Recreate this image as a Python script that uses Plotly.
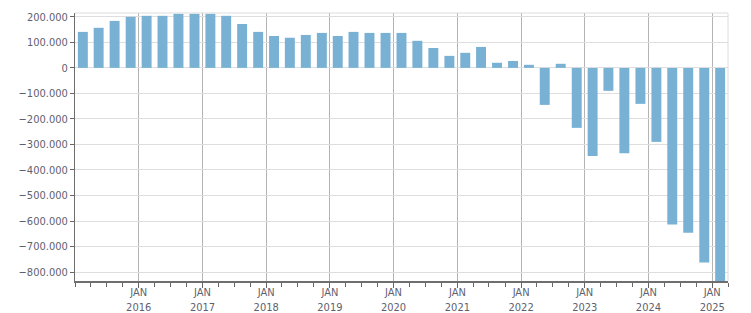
import plotly.graph_objects as go

# Quarter start dates (bars drawn at mid-quarter)
quarters = [f"{y}-{m:02d}-01" for y in range(2015, 2026) for m in (1, 4, 7, 10)][:41]

values = [
    141000, 157000, 184000, 200000,
    204000, 204000, 212000, 212000,
    212000, 204000, 172000, 141000,
    125000, 118000, 129000, 137000,
    125000, 141000, 137000, 137000,
    137000, 106000, 78000, 47000,
    59000, 82000, 20000, 27000,
    12000, -145000, 16000, -235000,
    -345000, -90000, -334000, -141000,
    -290000, -614000, -646000, -763000,
    -850000,
]

tick_vals = [f"{y}-01-01" for y in range(2016, 2026)]
tick_text = [f"JAN<br>{y}" for y in range(2016, 2026)]

y_ticks = list(range(-800000, 200001, 100000))

font_family = "Tahoma, 'DejaVu Sans Condensed', 'Liberation Sans', sans-serif"
text_color = "#5f5f70"

fig = go.Figure()
fig.add_trace(go.Bar(
    x=quarters,
    y=values,
    xperiod="M3",
    xperiod0="2015-01-01",
    xperiodalignment="middle",
    width=57 * 86400000,
    marker=dict(color="#79b1d4", line=dict(width=0)),
    hoverinfo="skip",
))

fig.update_layout(
    width=751,
    height=313,
    margin=dict(l=75, r=23, t=13, b=32, autoexpand=False),
    paper_bgcolor="white",
    plot_bgcolor="white",
    showlegend=False,
    separators=",.",
    font=dict(family=font_family, size=11, color=text_color),
    shapes=[
        dict(type="line", xref="paper", yref="paper", x0=0, x1=1, y0=1, y1=1,
             line=dict(color="#dcdcdc", width=1)),
        dict(type="line", xref="paper", yref="paper", x0=1, x1=1, y0=0, y1=1,
             line=dict(color="#dcdcdc", width=1)),
    ],
)

fig.update_xaxes(
    type="date",
    automargin=False,
    range=["2015-01-01", "2025-04-01"],
    tickmode="array",
    tickvals=tick_vals,
    ticktext=tick_text,
    ticks="outside",
    ticklen=5,
    ticklabelstandoff=-5,
    tickcolor="#666666",
    showgrid=True,
    gridcolor="#b4b4b4",
    gridwidth=1,
    showline=True,
    linecolor="#6e6e6e",
    linewidth=2,
    zeroline=False,
    tickfont=dict(family=font_family, size=11, color=text_color),
    minor=dict(dtick="M3", tick0="2015-01-01", ticks="outside", ticklen=4,
               tickcolor="#666666", showgrid=False),
)

fig.update_yaxes(
    automargin=False,
    range=[-835000, 215000],
    tickmode="array",
    tickvals=y_ticks,
    tickformat=",d",
    ticks="outside",
    ticklen=4,
    tickcolor="#666666",
    showgrid=True,
    gridcolor="#dedede",
    gridwidth=1,
    showline=True,
    linecolor="#6e6e6e",
    linewidth=1,
    zeroline=False,
    tickfont=dict(family=font_family, size=11, color=text_color),
)

fig.write_html("out.html")
